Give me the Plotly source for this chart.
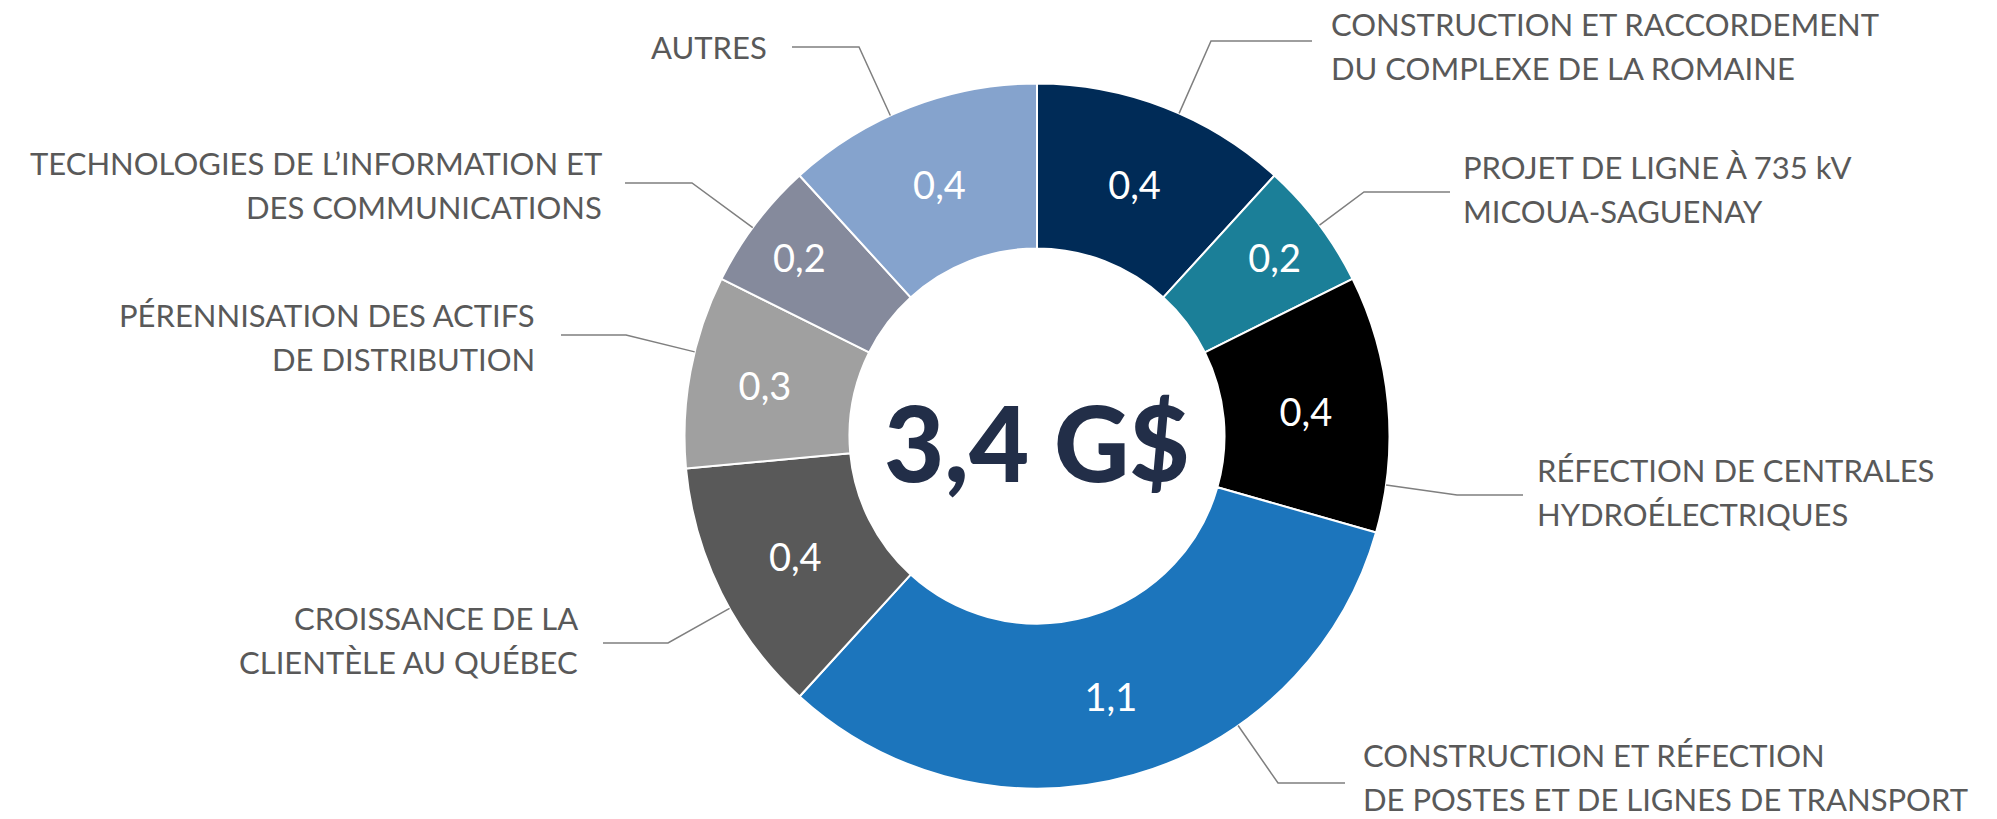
import math
import plotly.graph_objects as go

# ---------------- data ----------------
categories = [
    "CONSTRUCTION ET RACCORDEMENT<br>DU COMPLEXE DE LA ROMAINE",
    "PROJET DE LIGNE À 735 kV<br>MICOUA-SAGUENAY",
    "RÉFECTION DE CENTRALES<br>HYDROÉLECTRIQUES",
    "CONSTRUCTION ET RÉFECTION<br>DE POSTES ET DE LIGNES DE TRANSPORT",
    "CROISSANCE DE LA<br>CLIENTÈLE AU QUÉBEC",
    "PÉRENNISATION DES ACTIFS<br>DE DISTRIBUTION",
    "TECHNOLOGIES DE L’INFORMATION ET<br>DES COMMUNICATIONS",
    "AUTRES",
]
values = [0.4, 0.2, 0.4, 1.1, 0.4, 0.3, 0.2, 0.4]
total_label = "3,4 G$"

# ---------------- style / layout ----------------
colors = ["#002B57", "#1B7F98", "#000000", "#1C75BC",
          "#595959", "#A0A0A0", "#858A9C", "#85A3CD"]

W, H = 1997, 819
CX, CY, R = 1037, 436, 352.5
HOLE = 0.532

# label placement: (side, text x, first line center y, elbow x, outer x of leader, leader y)
label_layout = [
    ("right", 1329, 24, 1211, 1312, 41),
    ("right", 1461, 167, 1364, 1450, 192),
    ("right", 1535, 470, 1457, 1523, 495),
    ("right", 1361, 755, 1278, 1345, 783),
    ("left", 580, 618, 668, 603, 643),
    ("left", 537, 315, 626, 561, 335),
    ("left", 604, 163, 692, 625, 183),
    ("left", 769, 47, 859, 792, 47),
]
LINE_GAP = 44
LABEL_FONT = dict(family="Lato", size=31, color="#595959", weight=400)
LEADER_COLOR = "#7F7F7F"


def px(x):
    return x / W


def py(y):
    return 1 - y / H


text_vals = [f"{v:.1f}".replace(".", ",") for v in values]

fig = go.Figure(go.Pie(
    values=values,
    labels=[c.replace("<br>", " ") for c in categories],
    text=text_vals,
    textinfo="text",
    textposition="inside",
    insidetextorientation="horizontal",
    textfont=dict(family="Lato", size=38, color="white", weight=400),
    sort=False,
    direction="clockwise",
    rotation=0,
    hole=HOLE,
    marker=dict(colors=colors, line=dict(color="white", width=2)),
    domain=dict(x=[px(CX - R), px(CX + R)], y=[py(CY + R), py(CY - R)]),
    showlegend=False,
    hoverinfo="label+value",
))

annotations = []
shapes = []

# slice angle ranges (degrees clockwise from 12 o'clock)
total = sum(values)
starts = []
acc = 0.0
for v in values:
    starts.append((acc / total * 360, (acc + v) / total * 360))
    acc += v

for cat, (a0, a1), (side, tx, ty, ex, ox, ly) in zip(categories, starts, label_layout):
    lines = cat.split("<br>")
    for i, ln in enumerate(lines):
        annotations.append(dict(
            x=px(tx), y=py(ty + i * LINE_GAP), xref="paper", yref="paper",
            text=ln, showarrow=False,
            xanchor="left" if side == "right" else "right", yanchor="middle",
            font=LABEL_FONT,
        ))
    # attach point: point of slice outer edge nearest the elbow direction
    ang = math.degrees(math.atan2(ex - CX, -(ly - CY))) % 360
    lo, hi = a0, a1
    if not (lo <= ang <= hi):
        d_lo = min(abs(ang - lo), 360 - abs(ang - lo))
        d_hi = min(abs(ang - hi), 360 - abs(ang - hi))
        ang = lo if d_lo < d_hi else hi
    ax = CX + R * math.sin(math.radians(ang))
    ay = CY - R * math.cos(math.radians(ang))
    path = f"M {px(ox)},{py(ly)} L {px(ex)},{py(ly)} L {px(ax)},{py(ay)}"
    shapes.append(dict(type="path", xref="paper", yref="paper", path=path,
                       line=dict(color=LEADER_COLOR, width=1.5)))

annotations.append(dict(
    x=px(CX), y=py(441), xref="paper", yref="paper",
    text=total_label, showarrow=False,
    xanchor="center", yanchor="middle",
    font=dict(family="Lato", size=104, color="#222E48", weight=900),
))

fig.update_layout(
    width=W, height=H,
    margin=dict(l=0, r=0, t=0, b=0),
    paper_bgcolor="white", plot_bgcolor="white",
    annotations=annotations, shapes=shapes,
)

fig.write_html("out.html",
               config={"displayModeBar": False},
               post_script="document.body.style.margin='0px';document.body.style.overflow='hidden';")
